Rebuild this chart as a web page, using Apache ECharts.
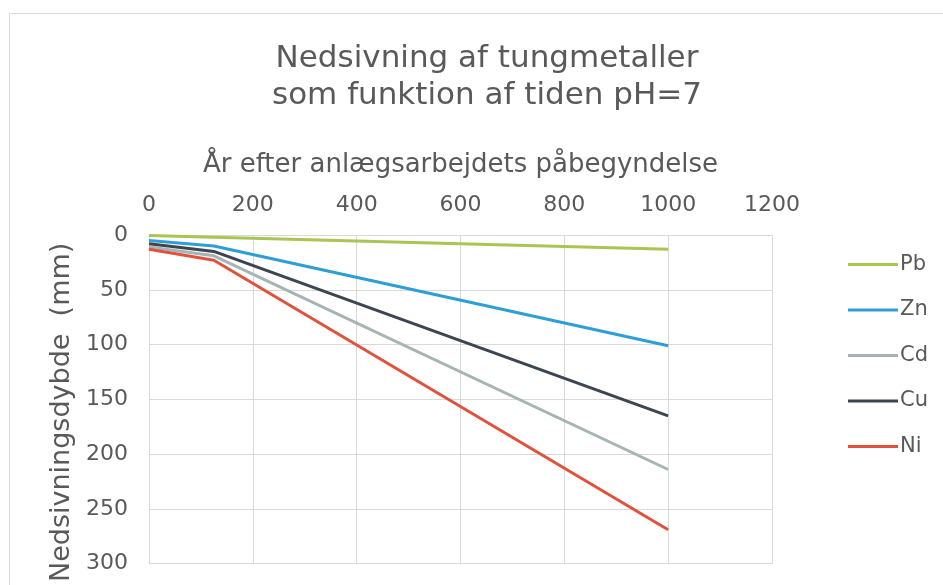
<!DOCTYPE html>
<html>
<head>
<meta charset="utf-8">
<script src="https://cdn.jsdelivr.net/npm/echarts@6/dist/echarts.min.js"></script>
<style>
html,body{margin:0;padding:0;background:#fff;}
#chart{width:943px;height:585px;}
</style>
</head>
<body>
<div id="chart"></div>
<script>
// Data
const years = [0, 125, 1000];
const seriesNames = ['Pb', 'Zn', 'Cd', 'Cu', 'Ni'];
const Pb = [0.5, 2, 13];
const Zn = [5, 10, 101];
const Cd = [11, 19, 214];
const Cu = [8, 15, 165];
const Ni = [13, 23, 269];
const xTicks = [0, 200, 400, 600, 800, 1000, 1200];
const yTicks = [0, 50, 100, 150, 200, 250, 300];

const values = {Pb, Zn, Cd, Cu, Ni};
const colors = {Pb:'#aac553', Zn:'#2e9fd5', Cd:'#a6b4b3', Cu:'#3c4550', Ni:'#e0523c'};
const FONT = 'DejaVu Sans';
const TXT = '#595959';

const chart = echarts.init(document.getElementById('chart'), null, {renderer:'canvas'});
chart.setOption({
  animation: false,
  backgroundColor: '#ffffff',
  textStyle: {fontFamily: FONT},
  title: {
    text: 'Nedsivning af tungmetaller\nsom funktion af tiden pH=7',
    left: 482, top: 35, textAlign: 'center',
    textStyle: {fontFamily: FONT, fontSize: 31, fontWeight: 'normal', color: TXT, lineHeight: 37}
  },
  graphic: [{
    type: 'rect', silent: true,
    shape: {x: 9.5, y: 13.5, width: 1000, height: 1000},
    style: {fill: 'none', stroke: '#d9d9d9', lineWidth: 1}
  }],
  legend: {
    orient: 'vertical', left: 843, top: 249,
    icon: 'rect', itemWidth: 50, itemHeight: 3, itemGap: 24.5,
    data: seriesNames,
    textStyle: {fontFamily: FONT, fontSize: 21, color: TXT, padding: [0,0,0,-3]}
  },
  grid: {left: 149, right: 171, top: 235, bottom: 21, containLabel: false},
  xAxis: {
    type: 'value', position: 'top', min: xTicks[0], max: xTicks[xTicks.length-1], interval: 200,
    name: 'År efter anlægsarbejdets påbegyndelse', nameLocation: 'middle', nameGap: 57,
    nameTextStyle: {fontFamily: FONT, fontSize: 26, color: TXT},
    axisLine: {show: false}, axisTick: {show: false},
    axisLabel: {fontFamily: FONT, fontSize: 22, color: TXT, margin: 19, formatter: v => String(v)},
    splitLine: {show: true, lineStyle: {color: '#d9d9d9', width: 1}}
  },
  yAxis: {
    type: 'value', inverse: true, min: yTicks[0], max: yTicks[yTicks.length-1], interval: 50,
    name: 'Nedsivningsdybde  (mm)', nameLocation: 'middle', nameGap: 68, nameRotate: 90,
    nameTextStyle: {fontFamily: FONT, fontSize: 27, color: TXT, padding: [0, 26, 0, 0]},
    axisLine: {show: true, lineStyle: {color: '#d9d9d9', width: 1}}, axisTick: {show: false},
    axisLabel: {fontFamily: FONT, fontSize: 22, color: TXT, margin: 21, formatter: v => String(v)},
    splitLine: {show: true, lineStyle: {color: '#d9d9d9', width: 1}}
  },
  series: seriesNames.map(n => ({
    name: n, type: 'line', showSymbol: false, symbol: 'none',
    data: years.map((x, i) => [x, values[n][i]]),
    lineStyle: {color: colors[n], width: 3},
    itemStyle: {color: colors[n]}
  }))
});
</script>
</body>
</html>
